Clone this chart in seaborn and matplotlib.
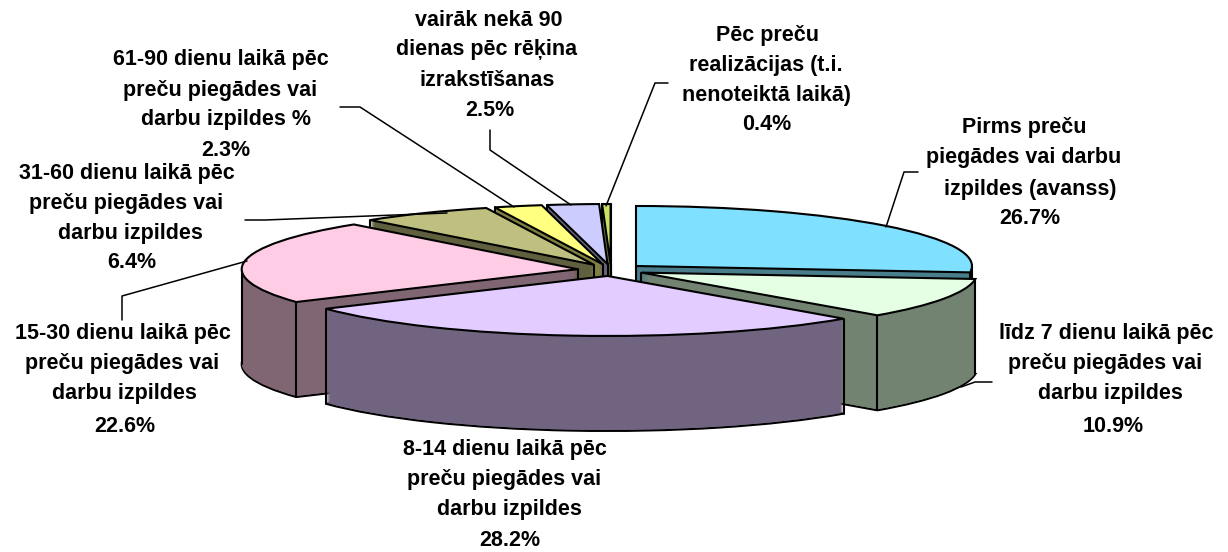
import numpy as np
import matplotlib
matplotlib.use("Agg")
import matplotlib.pyplot as plt
from matplotlib.lines import Line2D
import seaborn as sns

# vertības no attēla
shares = [26.7, 10.9, 28.2, 22.6, 6.4, 2.3, 2.5, 0.4]
top_colors = ["#80E0FF", "#E5FFE5", "#E3CCFF", "#FFCCE5", "#BFBF80", "#FFFF80", "#CCCCFF", "#CCE066"]
side_colors = ["#4A7D8C", "#728372", "#716480", "#806672", "#60603F", "#808040", "#666680", "#667033"]
explode = [0.1] * len(shares)

# teksta rindas: (teksts, centra x, centra y) pikseļos
label_lines = [
    ("vairāk nekā 90", 489, 20), ("dienas pēc rēķina", 487, 50), ("izrakstīšanas", 487, 80), ("2.5%", 490, 111),
    ("61-90 dienu laikā pēc", 221, 60), ("preču piegādes vai", 220, 90), ("darbu izpildes %", 226, 120), ("2.3%", 226, 150),
    ("31-60 dienu laikā pēc", 127, 173), ("preču piegādes vai", 126, 203), ("darbu izpildes", 130, 233), ("6.4%", 132, 263),
    ("15-30 dienu laikā pēc", 123, 334), ("preču piegādes vai", 122, 364), ("darbu izpildes", 124, 394), ("22.6%", 125, 427),
    ("8-14 dienu laikā pēc", 505, 450), ("preču piegādes vai", 504, 480), ("darbu izpildes", 509, 510), ("28.2%", 510, 540),
    ("Pēc preču", 768, 35), ("realizācijas (t.i.", 766, 65), ("nenoteiktā laikā)", 766, 95), ("0.4%", 767, 125),
    ("Pirms preču", 1024, 127), ("piegādes vai darbu", 1024, 157), ("izpildes (avanss)", 1030, 189), ("26.7%", 1030, 219),
    ("līdz 7 dienu laikā pēc", 1106, 334), ("preču piegādes vai", 1105, 364), ("darbu izpildes", 1110, 394), ("10.9%", 1113, 427),
]

leaders = [
    [(340, 107), (360, 107), (514, 207)],
    [(490, 130), (490, 150), (571, 205)],
    [(668, 83), (655, 83), (606, 206)],
    [(245, 220), (265, 220), (447, 213)],
    [(122, 320), (122, 296), (247, 261)],
    [(918, 172), (904, 172), (886, 227)],
    [(992, 382), (975, 382), (961, 387)],
]

W, H = 1228, 552
CX, CY = 611, 270      # pīrāga centrs
RX, RY = 336, 60       # elipses rādiusi
DEPTH = 95             # biezums pikseļos

sns.set_theme(style="white")
plt.rcParams["font.family"] = ["Liberation Sans", "DejaVu Sans"]

fig = plt.figure(figsize=(W / 100, H / 100), dpi=100)
ax = fig.add_axes([0, 0, 1, 1])

z = 1


def draw_slice(i, drop, face, edge="none", lw=0):
    global z
    wedges, _ = ax.pie(shares, explode=explode, startangle=90, counterclock=False,
                       center=(0, -drop / RY), colors=[face] * len(shares),
                       wedgeprops={"edgecolor": edge, "linewidth": lw})
    for j, w in enumerate(wedges):
        if j != i:
            w.remove()
    z += 1
    wedges[i].set_zorder(z)
    return wedges[i]


def draw_edges(w):
    # redzamās vertikālās malas
    global z
    t1, t2 = np.deg2rad(w.theta1), np.deg2rad(w.theta2)
    cx, cy = w.center
    pts = []
    if np.sin(t1) < 0 or np.cos(t1) > 0:
        pts.append((cx + np.cos(t1), cy + np.sin(t1)))
    if np.sin(t2) < 0 or np.cos(t2) < 0:
        pts.append((cx + np.cos(t2), cy + np.sin(t2)))
    if np.cos(t1) > 0 or np.cos(t2) < 0:
        pts.append((cx, cy))
    for a in [0, np.pi]:
        for k in [-2, 0, 2]:
            if t1 < a + k * np.pi < t2:
                pts.append((cx + np.cos(a), cy))
    for x, y in pts:
        z += 1
        ax.plot([x, x], [y, y - DEPTH / RY], color="black", lw=1.5, zorder=z, solid_capstyle="round")


# secība no aizmugures uz priekšu
mids = (np.cumsum(shares) - np.array(shares) / 2) / sum(shares) * 2 * np.pi
order = np.argsort(-np.cos(mids))

for i in order:
    draw_slice(i, DEPTH, side_colors[i], "black", 1.5)
    for drop in np.arange(DEPTH - 1, 0, -1):
        draw_slice(i, drop, side_colors[i])
    top = draw_slice(i, 0, top_colors[i], "black", 1.5)
    draw_edges(top)
    z += 1
    top.set_zorder(z)

ax.set_aspect("auto")
ax.set_xlim(-CX / RX, (W - CX) / RX)
ax.set_ylim((CY - H) / RY, CY / RY)
ax.axis("off")

for txt, x, y in label_lines:
    fig.text(x / W, 1 - y / H, txt, ha="center", va="center", fontsize=15.5, fontweight="bold", color="black")

for pts in leaders:
    xs = [p[0] / W for p in pts]
    ys = [1 - p[1] / H for p in pts]
    fig.add_artist(Line2D(xs, ys, color="black", lw=1.1, transform=fig.transFigure))

fig.savefig("out.png", dpi=100)
